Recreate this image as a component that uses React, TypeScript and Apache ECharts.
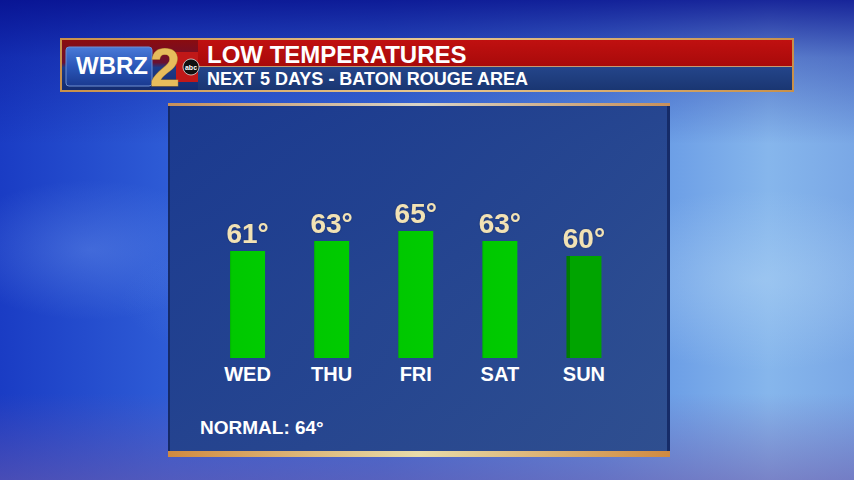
import React, { useEffect, useRef } from "react";
import * as echarts from "echarts";

const days = ["WED", "THU", "FRI", "SAT", "SUN"];
const lows = [61, 63, 65, 63, 60];
const normalLow = 64;
const titleText = "LOW TEMPERATURES";
const subtitleText = "NEXT 5 DAYS - BATON ROUGE AREA";

const FONT = "'Liberation Sans', Arial, sans-serif";

export default function App() {
  const ref = useRef<HTMLDivElement>(null);
  useEffect(() => {
    if (!ref.current) return;
    const chart = echarts.init(ref.current, undefined, { renderer: "svg" });
    const barData = lows.map((v, i) => {
      if (i === days.length - 1) {
        return {
          value: v,
          itemStyle: {
            color: new echarts.graphic.LinearGradient(0, 0, 1, 0, [
              { offset: 0, color: "#007c00" },
              { offset: 0.09, color: "#007c00" },
              { offset: 0.1, color: "#00a400" },
              { offset: 1, color: "#00a400" },
            ]),
          },
        };
      }
      return {
        value: v,
        itemStyle: {
          color: new echarts.graphic.LinearGradient(0, 0, 1, 0, [
            { offset: 0, color: "#00b400" },
            { offset: 0.05, color: "#00c800" },
            { offset: 1, color: "#00cc00" },
          ]),
        },
      };
    });

    chart.setOption({
      animation: false,
      backgroundColor: "transparent",
      grid: { left: 205.5, width: 420.5, top: 158, height: 200 },
      xAxis: {
        type: "category",
        data: days,
        axisLine: { show: false },
        axisTick: { show: false },
        axisLabel: {
          color: "#ffffff",
          fontSize: 20,
          fontWeight: "bold",
          fontFamily: FONT,
          margin: 6,
        },
      },
      yAxis: {
        type: "value",
        min: 39.6,
        max: 79.6,
        show: false,
        splitLine: { show: false },
      },
      graphic: [
        // header frame
        {
          type: "rect",
          z: 0,
          shape: { x: 60, y: 38, width: 734, height: 54 },
          style: {
            fill: new echarts.graphic.LinearGradient(0, 0, 1, 0, [
              { offset: 0, color: "#c8904a" },
              { offset: 0.5, color: "#e8c890" },
              { offset: 1, color: "#c8904a" },
            ]),
          },
        },
        {
          type: "rect",
          z: 0,
          shape: { x: 62, y: 40, width: 730, height: 26 },
          style: {
            fill: new echarts.graphic.LinearGradient(0, 0, 0, 1, [
              { offset: 0, color: "#c01010" },
              { offset: 1, color: "#a80a0a" },
            ]),
          },
        },
        {
          type: "rect",
          z: 0,
          shape: { x: 62, y: 66, width: 730, height: 1 },
          style: { fill: "#c89a70" },
        },
        {
          type: "rect",
          z: 0,
          shape: { x: 62, y: 67, width: 730, height: 23 },
          style: {
            fill: new echarts.graphic.LinearGradient(0, 0, 0, 1, [
              { offset: 0, color: "#24458a" },
              { offset: 1, color: "#1a3672" },
            ]),
          },
        },
        // logo
        {
          type: "rect",
          z: 1,
          shape: { x: 62, y: 40, width: 136, height: 50 },
          style: {
            fill: new echarts.graphic.LinearGradient(0, 0, 0, 1, [
              { offset: 0, color: "#8a0c10" },
              { offset: 0.45, color: "#6a1030" },
              { offset: 0.55, color: "#1c3a88" },
              { offset: 1, color: "#142c70" },
            ]),
          },
        },
        {
          type: "rect",
          z: 1,
          shape: { x: 66, y: 47, width: 86, height: 39, r: 3 },
          style: {
            fill: new echarts.graphic.LinearGradient(0, 0, 0, 1, [
              { offset: 0, color: "#4a7ad8" },
              { offset: 0.5, color: "#2a56b8" },
              { offset: 1, color: "#1a3a90" },
            ]),
            stroke: "#7090d0",
            lineWidth: 1,
          },
        },
        {
          type: "text",
          z: 2,
          x: 76,
          y: 65,
          style: {
            text: "WBRZ",
            fill: "#ffffff",
            font: `bold 24px ${FONT}`,
            verticalAlign: "middle",
          },
        },
        {
          type: "rect",
          z: 1,
          shape: { x: 176, y: 52, width: 22, height: 30 },
          style: { fill: "#c01818" },
        },
        {
          type: "text",
          z: 2,
          x: 150,
          y: 67,
          style: {
            text: "2",
            fill: "#e6bc5c",
            stroke: "#a87a2a",
            lineWidth: 0.8,
            font: `bold 54px ${FONT}`,
            verticalAlign: "middle",
          },
        },
        {
          type: "circle",
          z: 3,
          shape: { cx: 191, cy: 67, r: 8 },
          style: { fill: "#111111", stroke: "#dddddd", lineWidth: 0.8 },
        },
        {
          type: "text",
          z: 4,
          x: 191,
          y: 67,
          style: {
            text: "abc",
            fill: "#ffffff",
            font: `bold 7px ${FONT}`,
            align: "center",
            verticalAlign: "middle",
          },
        },
        {
          type: "text",
          z: 2,
          x: 207,
          y: 54,
          style: {
            text: titleText,
            fill: "#ffffff",
            font: `bold 24px ${FONT}`,
            verticalAlign: "middle",
          },
        },
        {
          type: "text",
          z: 2,
          x: 207,
          y: 79,
          style: {
            text: subtitleText,
            fill: "#ffffff",
            font: `bold 18px ${FONT}`,
            verticalAlign: "middle",
          },
        },
        // panel
        {
          type: "rect",
          z: 0,
          shape: { x: 168, y: 104, width: 502, height: 352 },
          style: {
            fill: new echarts.graphic.LinearGradient(0, 0, 1, 1, [
              { offset: 0, color: "rgba(26,56,140,0.95)" },
              { offset: 1, color: "rgba(44,76,140,0.95)" },
            ]),
          },
        },
        {
          type: "rect",
          z: 0,
          shape: { x: 168, y: 104, width: 2, height: 352 },
          style: { fill: "rgba(20,40,100,0.9)" },
        },
        {
          type: "rect",
          z: 0,
          shape: { x: 667, y: 104, width: 3, height: 352 },
          style: { fill: "rgba(20,40,100,0.9)" },
        },
        {
          type: "rect",
          z: 1,
          shape: { x: 168, y: 103, width: 502, height: 3 },
          style: {
            fill: new echarts.graphic.LinearGradient(0, 0, 1, 0, [
              { offset: 0, color: "#c8905a" },
              { offset: 0.5, color: "#d8d4c8" },
              { offset: 1, color: "#c8905a" },
            ]),
          },
        },
        {
          type: "rect",
          z: 1,
          shape: { x: 168, y: 451, width: 502, height: 6 },
          style: {
            fill: new echarts.graphic.LinearGradient(0, 0, 1, 0, [
              { offset: 0, color: "#d08a40" },
              { offset: 0.5, color: "#e8dcaa" },
              { offset: 1, color: "#d08a40" },
            ]),
          },
        },
        {
          type: "text",
          z: 2,
          x: 200,
          y: 427,
          style: {
            text: `NORMAL: ${normalLow}°`,
            fill: "#ffffff",
            font: `bold 19px ${FONT}`,
            verticalAlign: "middle",
          },
        },
      ],
      series: [
        {
          type: "bar",
          data: barData,
          barWidth: 35,
          z: 3,
          label: {
            show: true,
            position: "top",
            distance: 4,
            formatter: "{c}°",
            color: "#f2e2b4",
            fontSize: 28,
            fontWeight: "bold",
            fontFamily: FONT,
            textShadowColor: "rgba(0,0,0,0.25)",
            textShadowBlur: 2,
          },
        },
      ],
    });
    return () => chart.dispose();
  }, []);

  const bg = [
    "radial-gradient(ellipse 260px 80px at 380px 300px, rgba(140,180,240,0.25), rgba(140,180,240,0) 100%)",
    "radial-gradient(ellipse 200px 90px at 760px 280px, rgba(180,215,245,0.45), rgba(180,215,245,0) 100%)",
    "radial-gradient(ellipse 140px 70px at 90px 250px, rgba(120,160,240,0.35), rgba(120,160,240,0) 100%)",
    "linear-gradient(180deg, rgba(6,14,140,0.85) 0%, rgba(6,14,140,0.35) 12%, rgba(6,14,140,0) 30%, rgba(0,0,0,0) 82%, rgba(110,90,170,0.55) 100%)",
    "linear-gradient(90deg, #1a3cc4 0%, #2e5cd6 20%, #3a6cd8 45%, #5a8ee2 70%, #86b6ec 90%, #7aa8e6 100%)",
  ].join(", ");

  return (
    <div
      style={{
        position: "absolute",
        left: 0,
        top: 0,
        width: 854,
        height: 480,
        background: bg,
        overflow: "hidden",
      }}
    >
      <div ref={ref} style={{ width: 854, height: 480 }} />
    </div>
  );
}
